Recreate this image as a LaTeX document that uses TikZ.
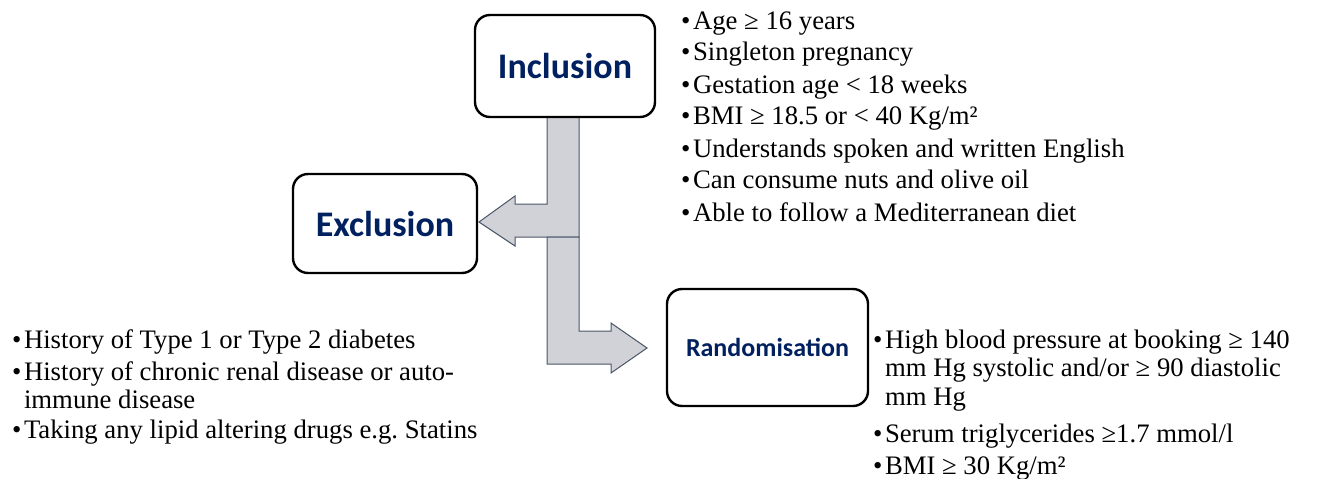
\documentclass[tikz,border=0pt]{standalone}
\usepackage{fontspec}
\setmainfont{Liberation Serif}
\newfontfamily\headfont{Carlito}
\definecolor{headblue}{HTML}{002060}
\definecolor{arrowfill}{HTML}{D0D2D7}
\definecolor{arrowedge}{HTML}{4A5568}
\frenchspacing
% one bullet item, continuation lines start with "&"
\newcommand\bulletitem[1]{\begin{tabular}[t]{@{}l@{\hspace{2.5pt}}l@{}}•&#1\end{tabular}}
\tikzset{
  stagebox/.style={draw=black, line width=2.4pt, rounded corners=15pt, fill=white,
    inner sep=0pt, align=center, text=headblue, font=\headfont\bfseries\fontsize{36}{40}\selectfont},
  listtext/.style={inner sep=0pt, anchor=base west, align=left,
    font=\fontsize{26.7}{28.5}\selectfont},
  blockarrow/.style={fill=arrowfill, draw=arrowedge, line width=1pt, line join=miter}
}
\begin{document}
\begin{tikzpicture}[x=1pt,y=-1pt]
\useasboundingbox (0,0) rectangle (1331,479);

% block arrows branching from the inclusion stage
\draw[blockarrow] (547,117) -- (579,117) -- (579,237) -- (515,237) -- (515,246)
  -- (479,222) -- (515,196) -- (515,204) -- (547,204) -- cycle;
\draw[blockarrow] (547,237) -- (579,237) -- (579,331) -- (611,331) -- (611,323)
  -- (647,348) -- (611,373) -- (611,364) -- (547,364) -- cycle;

% stages
\node[stagebox, minimum width=180pt, minimum height=102pt] (inc) at (565,66) {Inclusion};
\node[stagebox, minimum width=184pt, minimum height=99pt] (exc) at (385,223.5) {Exclusion};
\node[stagebox, minimum width=201pt, minimum height=117pt,
  font=\headfont\bfseries\fontsize{26}{30}\selectfont] (ran) at (767.5,347.5) {Randomisation};

% inclusion criteria
\node[listtext, font=\fontsize{26.7}{32}\selectfont] (inclist) at (681,29) {%
  \begin{tabular}[t]{@{}l@{\hspace{2.5pt}}l@{}}
  •&Age ≥ 16 years\\
  •&Singleton pregnancy\\
  •&Gestation age < 18 weeks\\
  •&BMI ≥ 18.5 or < 40 Kg/m²\\
  •&Understands spoken and written English\\
  •&Can consume nuts and olive oil\\
  •&Able to follow a Mediterranean diet
  \end{tabular}};

% exclusion criteria
\node[listtext] (exc1) at (12,348) {\bulletitem{History of Type 1 or Type 2 diabetes}};
\node[listtext] (exc2) at (12,380) {\bulletitem{History of chronic renal disease or auto-\\&immune disease}};
\node[listtext] (exc3) at (12,438) {\bulletitem{Taking any lipid altering drugs e.g. Statins}};

% randomisation criteria
\node[listtext] (ran1) at (873,348) {\bulletitem{High blood pressure at booking ≥ 140\\&mm Hg systolic and/or ≥ 90 diastolic\\&mm Hg}};
\node[listtext] (ran2) at (873,442) {\bulletitem{Serum triglycerides ≥1.7 mmol/l}};
\node[listtext] (ran3) at (873,474) {\bulletitem{BMI ≥ 30 Kg/m²}};
\end{tikzpicture}
\end{document}
